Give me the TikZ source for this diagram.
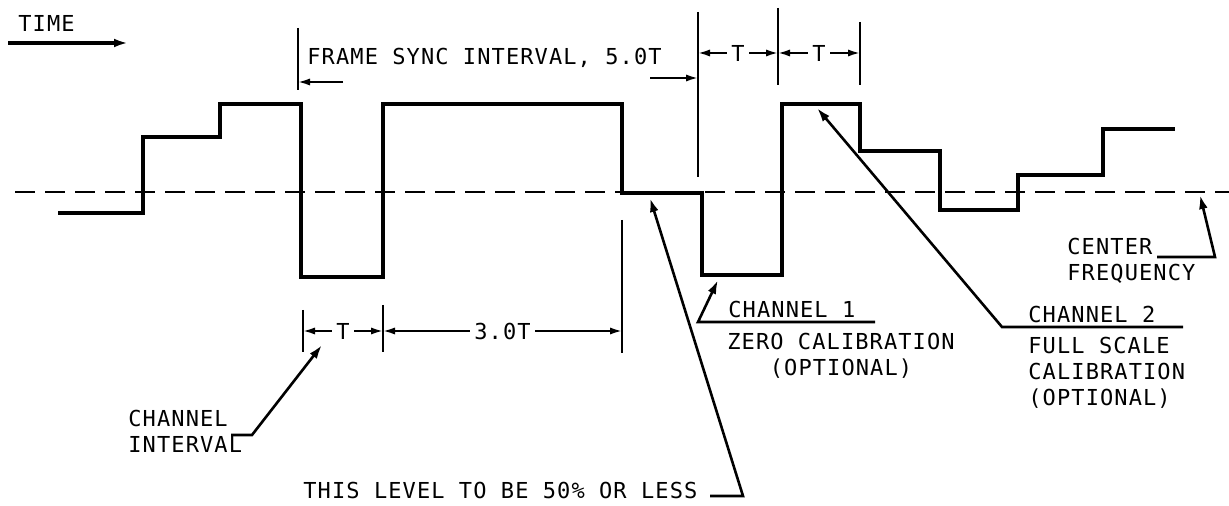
\documentclass[tikz,border=0pt]{standalone}
\usepackage{fontspec}
\newfontfamily\lettering[LetterSpace=5]{DejaVu Sans Mono}
\usetikzlibrary{arrows.meta,positioning}

\begin{document}
\begin{tikzpicture}[
  x=0.5pt,y=-0.5pt,
  wave/.style={line width=1.8pt,line join=miter},
  centre line/.style={line width=0.8pt,dash pattern=on 10pt off 5pt},
  tick/.style={line width=0.8pt},
  dim/.style={{Latex[length=6pt,width=3.6pt]}-{Latex[length=6pt,width=3.6pt]},line width=1pt},
  short/.style={-{Latex[length=6pt,width=3.6pt]},line width=1pt},
  lead/.style={-{Latex[length=7pt,width=4.4pt]},line width=1.3pt},
  txt/.style={inner sep=0pt,font=\lettering\fontsize{11}{13}\selectfont},
  dim label/.style={txt,fill=white,inner xsep=2pt,inner ysep=1pt}
]
\useasboundingbox[fill=white] (0,0) rectangle (1229,506);

\node[txt,anchor=north west] (time) at (18,15) {TIME};
\coordinate (time tail) at (8,43);
\coordinate (time head) at (128,43);
\draw[lead,line width=1.6pt] (time tail) -- (time head);

\draw[centre line] (15,192) -- (1229,192);
\draw[wave] (58,213) -| (143,137) -| (220,104) -| (301,277) -| (383,104) -| (622,193)
  -| (702,275) -| (782,104) -| (860,151) -| (940,210) -| (1018,175) -| (1103,129) -- (1175,129);

\node[txt,anchor=north west] (frame) at (307,48) {FRAME SYNC INTERVAL, 5.0T};
\draw[tick] (298,28) -- (298,90);
\draw[tick] (698,12) -- (698,177);
\draw[tick] (778,8) -- (778,85);
\draw[tick] (860,22) -- (860,85);
\coordinate (fs left) at (298,82);
\coordinate (fs left tail) at (343,82);
\coordinate (fs right) at (698,78);
\coordinate (fs right tail) at (650,78);
\draw[short] (fs left tail) -- (fs left);
\draw[short] (fs right tail) -- (fs right);
\coordinate (t1) at (698,53);
\coordinate (t2) at (778,53);
\coordinate (t3) at (860,53);
\draw[dim] (t1) -- node[dim label] {T} (t2);
\draw[dim] (t2) -- node[dim label] {T} (t3);

\draw[tick] (303,310) -- (303,352);
\draw[tick] (383,305) -- (383,352);
\draw[tick] (622,220) -- (622,353);
\coordinate (b1) at (303,331);
\coordinate (b2) at (383,331);
\coordinate (b3) at (622,331);
\draw[dim] (b1) -- node[dim label] {T} (b2);
\draw[dim] (b2) -- node[dim label] {3.0T} (b3);

\node[txt,anchor=north west,align=left] (chint) at (128,410) {CHANNEL\\INTERVAL};
\coordinate (chint foot) at (231,435);
\coordinate (chint knee) at (252,435);
\coordinate (chint tip) at (322,345);
\draw[lead] (chint foot) -- (chint knee) -- (chint tip);

\node[txt,anchor=north west] (lvl) at (303,482) {THIS LEVEL TO BE 50\% OR LESS};
\coordinate (lvl foot) at (710,496);
\coordinate (lvl knee) at (743,496);
\coordinate (lvl tip) at (650,198);
\draw[lead] (lvl foot) -- (lvl knee) -- (lvl tip);

\node[txt,anchor=north west] (ch1) at (728,301) {CHANNEL 1};
\node[txt,anchor=north,align=center] (ch1 note) at (841,333) {ZERO CALIBRATION\\(OPTIONAL)};
\coordinate (ch1 end) at (875,322);
\coordinate (ch1 knee) at (698,322);
\coordinate (ch1 tip) at (718,280);
\draw[lead] (ch1 end) -- (ch1 knee) -- (ch1 tip);

\node[txt,anchor=north west] (ch2) at (1028,306) {CHANNEL 2};
\node[txt,anchor=north west,align=left] (ch2 note) at (1028,337) {FULL SCALE\\CALIBRATION\\(OPTIONAL)};
\coordinate (ch2 end) at (1183,327);
\coordinate (ch2 knee) at (1002,327);
\coordinate (ch2 tip) at (817,108);
\draw[lead] (ch2 end) -- (ch2 knee) -- (ch2 tip);

\node[txt,anchor=north west,align=left] (cf) at (1067,238) {CENTER\\FREQUENCY};
\coordinate (cf foot) at (1157,257);
\coordinate (cf knee) at (1215,257);
\coordinate (cf tip) at (1200,195);
\draw[lead] (cf foot) -- (cf knee) -- (cf tip);
\end{tikzpicture}
\end{document}
